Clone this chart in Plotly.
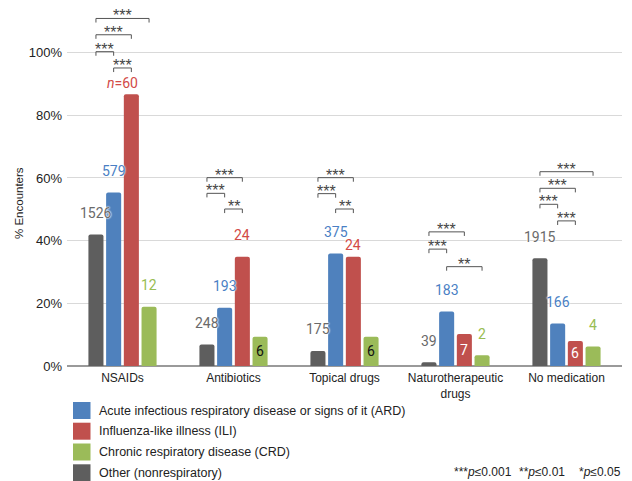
import plotly.graph_objects as go

# ---- data -------------------------------------------------------------
categories = ["NSAIDs", "Antibiotics", "Topical drugs",
              "Naturotherapeutic<br>drugs", "No medication"]

series_names = [
    "Other (nonrespiratory)",
    "Acute infectious respiratory disease or signs of it (ARD)",
    "Influenza-like illness (ILI)",
    "Chronic respiratory disease (CRD)",
]

# share of encounters (%) per group
pct_other = [42.0, 6.9, 4.8, 1.2, 34.4]
pct_ard = [55.4, 18.6, 35.9, 17.4, 13.6]
pct_ili = [86.7, 34.9, 34.9, 10.2, 8.0]
pct_crd = [18.9, 9.3, 9.3, 3.4, 6.2]

# number of encounters per group
n_other = [1526, 248, 175, 39, 1915]
n_ard = [579, 193, 375, 183, 166]
n_ili = [60, 24, 24, 7, 6]
n_crd = [12, 6, 6, 2, 4]

y_ticks = [0, 20, 40, 60, 80, 100]
y_tick_labels = ["0%", "20%", "40%", "60%", "80%", "100%"]

# pairwise comparisons: (category index, series a, series b, bracket height %, stars)
comparisons = [
    (0, 0, 3, 110.9, "***"), (0, 0, 2, 105.7, "***"),
    (0, 0, 1, 100.3, "***"), (0, 1, 2, 95.1, "***"),
    (1, 0, 2, 60.1, "***"), (1, 0, 1, 55.1, "***"), (1, 1, 2, 50.1, "**"),
    (2, 0, 2, 60.1, "***"), (2, 0, 1, 55.0, "***"), (2, 1, 2, 50.1, "**"),
    (3, 0, 2, 42.8, "***"), (3, 0, 1, 37.3, "***"), (3, 1, 3, 31.7, "**"),
    (4, 0, 3, 62.0, "***"), (4, 0, 2, 56.7, "***"),
    (4, 0, 1, 51.6, "***"), (4, 1, 2, 46.3, "***"),
]

# significance key entries
key_entries = [("***", "0.001"), ("**", "0.01"), ("*", "0.05")]

# ---- styling ----------------------------------------------------------
bar_colors = ["#5e5e5e", "#4f81bd", "#c0504d", "#9bbb59"]
label_colors = ["#6a6a6a", "#4a7fc4", "#d24a47", "#98bd52"]
AX_FONT = "Liberation Sans, Arial, sans-serif"
NUM_FONT = "Roboto, Liberation Sans, sans-serif"

W, H = 632, 481
L, R, T, B = 67, 10, 10, 115
PW, PH = W - L - R, H - T - B
Y_MAX = 113.6
BARGAP, GROUPGAP = 0.362, 0.15

values = [pct_other, pct_ard, pct_ili, pct_crd]
counts = [n_other, n_ard, n_ili, n_crd]

# label placement: inside the bar for these (series, category) pairs
inside = {(3, 1): "#111111", (3, 2): "#111111", (2, 3): "#ffffff", (2, 4): "#ffffff"}
# per-label nudges (dx, dy in px) for the labels that sit closer to their bar
nudges = {(2, 0): (-9, 11), (2, 2): (0, 12)}


def px_x(px):
    return (px - L) / PW


def px_y(py):
    return (T + PH - py) / PH


n_series = len(values)
slot = (1 - BARGAP) / n_series


def bar_x(cat, s):
    return cat - (1 - BARGAP) / 2 + slot * (s + 0.5)


fig = go.Figure()
for s in range(n_series):
    fig.add_trace(go.Bar(
        x=categories, y=values[s], name=series_names[s],
        marker=dict(color=bar_colors[s], line=dict(width=0)),
        showlegend=False,
    ))

annotations = []
halo = "white 0px 0px 2px, white 0px 0px 2px, white 0px 0px 1px"

# count labels
for s in range(n_series):
    for c in range(len(categories)):
        v = values[s][c]
        n = counts[s][c]
        if (s, c) in inside:
            annotations.append(dict(
                x=bar_x(c, s), y=v / 2, xref="x", yref="y",
                text=str(n), showarrow=False, yanchor="middle",
                font=dict(family=NUM_FONT, size=14, color=inside[(s, c)]),
            ))
            continue
        dx, dy = nudges.get((s, c), (0, 21.5))
        txt = f"<i>n</i>={n}" if (s, c) == (2, 0) else str(n)
        annotations.append(dict(
            x=bar_x(c, s), y=v, xref="x", yref="y",
            text=txt, showarrow=False, yanchor="middle",
            xshift=dx, yshift=dy,
            font=dict(family=NUM_FONT, size=14, color=label_colors[s], shadow=halo),
        ))

# significance brackets
shapes = []
leg = 1.3
for c, a, b, lvl, stars in comparisons:
    x0, x1 = bar_x(c, a), bar_x(c, b)
    shapes.append(dict(
        type="path", xref="x", yref="y",
        path=f"M {x0} {lvl - leg} L {x0} {lvl} L {x1} {lvl} L {x1} {lvl - leg}",
        line=dict(color="#555555", width=1),
    ))
    annotations.append(dict(
        x=(x0 + x1) / 2, y=lvl, xref="x", yref="y", text=stars,
        showarrow=False, yanchor="bottom", yshift=-8,
        font=dict(family=AX_FONT, size=16, color="#444444"),
    ))

# legend (ARD, ILI, CRD, Other)
legend_order = [1, 2, 3, 0]
row_y = [410.5, 431.2, 452.0, 472.8]
for k, s in enumerate(legend_order):
    yc = row_y[k]
    shapes.append(dict(
        type="rect", xref="paper", yref="paper",
        x0=px_x(73), x1=px_x(90.5), y0=px_y(yc + 8.5), y1=px_y(yc - 8.5),
        fillcolor=bar_colors[s], line=dict(width=0),
    ))
    annotations.append(dict(
        x=px_x(97), y=px_y(yc), xref="paper", yref="paper",
        text=series_names[s], showarrow=False, xanchor="left", yanchor="middle",
        font=dict(family=AX_FONT, size=12.5, color="#222222"),
    ))

# significance key
key_x = [451.5, 516.5, 576.5]
for (stars, p), kx in zip(key_entries, key_x):
    annotations.append(dict(
        x=px_x(kx), y=px_y(472), xref="paper", yref="paper",
        text=f"{stars}<i>p</i>≤{p}",
        showarrow=False, xanchor="left", yanchor="middle",
        font=dict(family=AX_FONT, size=12, color="#222222"),
    ))

# y-axis title
annotations.append(dict(
    x=px_x(19), y=px_y(203), xref="paper", yref="paper",
    text="% Encounters", textangle=-90, showarrow=False,
    xanchor="center", yanchor="middle",
    font=dict(family=AX_FONT, size=11.5, color="#222222"),
))

fig.update_layout(
    width=W, height=H,
    margin=dict(l=L, r=R, t=T, b=B, autoexpand=False),
    paper_bgcolor="white", plot_bgcolor="white",
    barmode="group", bargap=BARGAP, bargroupgap=GROUPGAP, barcornerradius=2,
    shapes=shapes, annotations=annotations,
    xaxis=dict(
        type="category", showgrid=False, showline=False, ticks="",
        ticklabelstandoff=3,
        tickfont=dict(family=AX_FONT, size=12, color="#222222"),
        fixedrange=True,
    ),
    yaxis=dict(
        range=[0, Y_MAX], tickmode="array", tickvals=y_ticks, ticktext=y_tick_labels,
        showgrid=True, gridcolor="#d9d9d9", gridwidth=1,
        zeroline=True, zerolinecolor="#9a9a9a", zerolinewidth=1.5,
        ticks="", ticklabelstandoff=4,
        tickfont=dict(family=AX_FONT, size=13, color="#222222"),
        fixedrange=True,
    ),
)

fig.write_html("out.html")
